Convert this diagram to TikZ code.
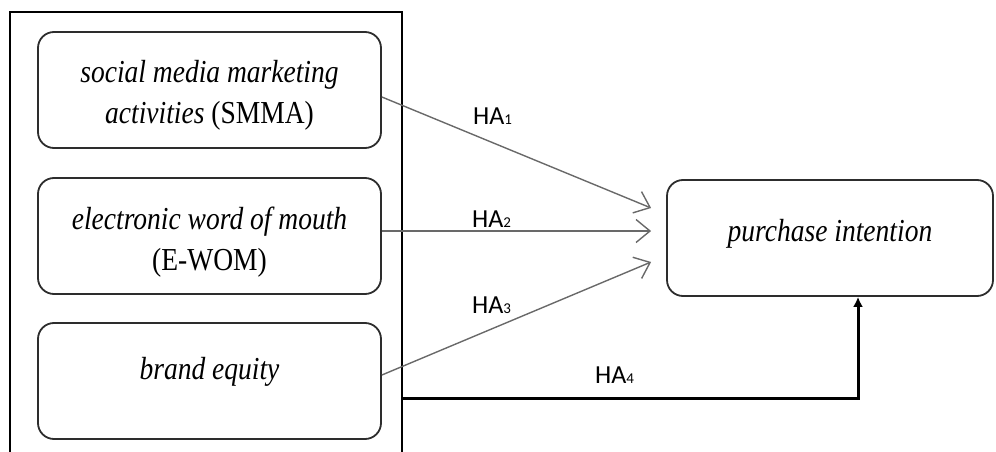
\documentclass[tikz,border=0pt]{standalone}
\usepackage{fontspec}
\setmainfont{Liberation Serif}[FakeStretch=0.86]
\newfontfamily\lblfont{Carlito}
\usetikzlibrary{arrows.meta}
\definecolor{boxline}{RGB}{45,45,45}
\definecolor{arrowgray}{RGB}{105,105,105}
\tikzset{
  varbox/.style={draw=boxline, line width=1.8pt, rounded corners=16pt,
    minimum width=343pt, minimum height=116pt, align=center,
    font=\fontsize{32}{41}\selectfont, inner sep=0pt},
  thinarrow/.style={draw=arrowgray, line width=1.4pt,
    -{Straight Barb[length=14pt,width=23pt,line width=1.4pt]}},
  thickarrow/.style={draw=black, line width=3pt,
    -{Latex[length=10pt,width=10pt]}},
  halabel/.style={font=\lblfont\fontsize{26}{26}\selectfont, inner sep=0pt}
}
\newcommand{\hasub}[1]{{\fontsize{15}{15}\selectfont #1}}
\begin{document}
\begin{tikzpicture}[x=1pt,y=-1pt]
\useasboundingbox (0,0) rectangle (996,452);
% outer frame (open at bottom)
\draw[line width=2.4pt] (10,452) -- (10,12) -- (402,12) -- (402,452);
\coordinate (frameR) at (402,398);
% boxes
\node[varbox] (b1) at (209.5,90) {\rule{0pt}{32pt}\textit{social media marketing}\\\textit{activities} (SMMA)};
\node[varbox] (b2) at (209.5,236) {\rule{0pt}{35pt}\textit{electronic word of mouth}\\(E-WOM)};
\node[varbox] (b3) at (209.5,381) {\raisebox{2pt}[0pt][0pt]{\textit{brand equity}}};
\node[varbox, minimum width=326pt] (pi) at (830,238) {\raisebox{-3pt}[0pt][0pt]{\textit{purchase intention}}};
% arrows
\draw[thinarrow] ([yshift=-7pt]b1.east) -- ([xshift=-15pt,yshift=30pt]pi.west);
\draw[thinarrow] ([yshift=5pt]b2.east) -- ([xshift=-15pt,yshift=7pt]pi.west);
\draw[thinarrow] ([yshift=6pt]b3.east) -- ([xshift=-15pt,yshift=-24pt]pi.west);
\draw[thickarrow] (frameR) -| ([xshift=28pt]pi.south);
% labels
\node[halabel, anchor=west] (l1) at (473,116) {HA\hasub{1}};
\node[halabel, anchor=west] (l2) at (472,219) {HA\hasub{2}};
\node[halabel, anchor=west] (l3) at (472,305) {HA\hasub{3}};
\node[halabel, anchor=west] (l4) at (595,375) {HA\hasub{4}};
\end{tikzpicture}
\end{document}
